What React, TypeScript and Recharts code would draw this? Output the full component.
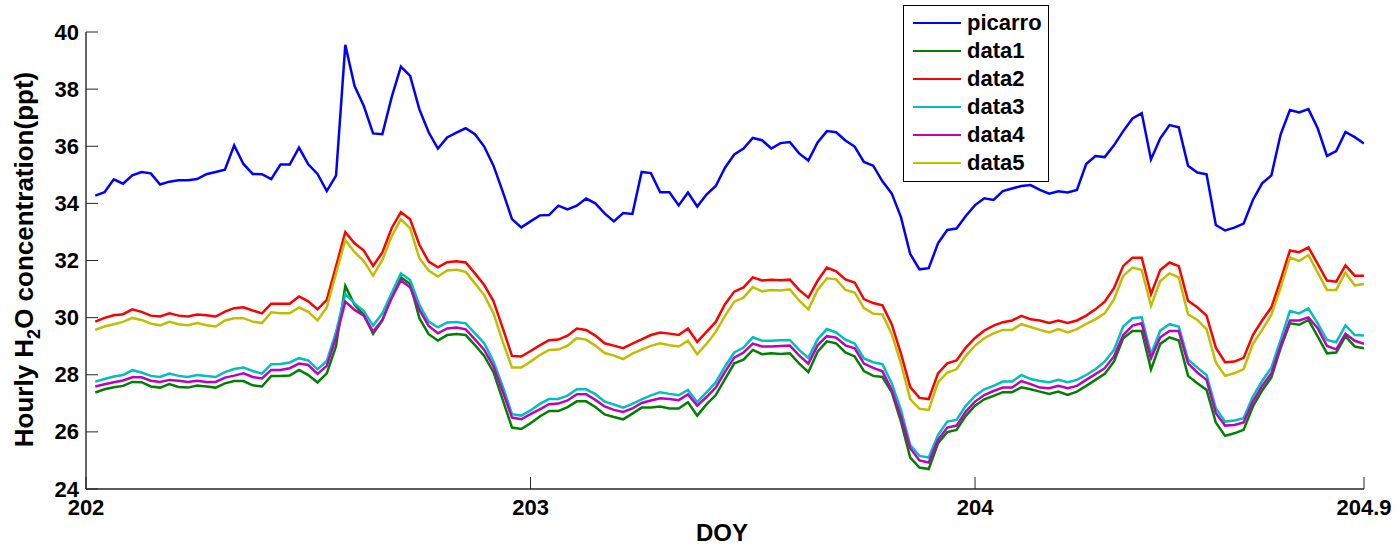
import React from 'react';
import { LineChart, Line, XAxis, YAxis, Legend } from 'recharts';

// Half-hourly samples, first one half an hour after DOY 202.
const FIRST_DOY = 202 + 1 / 48;
const STEP_DAYS = 1 / 48;

const picarro = [
  34.27, 34.39, 34.84, 34.69, 34.98, 35.10, 35.05, 34.66, 34.76, 34.81,
  34.81, 34.85, 35.02, 35.10, 35.18, 36.03, 35.38, 35.03, 35.02, 34.85,
  35.36, 35.36, 35.95, 35.37, 35.03, 34.43, 34.97, 39.55, 38.11, 37.41,
  36.45, 36.42, 37.71, 38.79, 38.46, 37.29, 36.49, 35.92, 36.31, 36.48,
  36.63, 36.42, 35.99, 35.32, 34.41, 33.45, 33.16, 33.37, 33.58, 33.59,
  33.92, 33.79, 33.92, 34.17, 34.00, 33.65, 33.37, 33.66, 33.63, 35.10,
  35.06, 34.39, 34.39, 33.93, 34.38, 33.89, 34.31, 34.61, 35.25, 35.71,
  35.92, 36.29, 36.21, 35.92, 36.11, 36.15, 35.75, 35.50, 36.13, 36.53,
  36.49, 36.20, 35.99, 35.45, 35.32, 34.77, 34.35, 33.52, 32.23, 31.69,
  31.73, 32.60, 33.07, 33.12, 33.56, 33.94, 34.18, 34.12, 34.43, 34.52,
  34.61, 34.64, 34.47, 34.34, 34.42, 34.38, 34.47, 35.38, 35.66, 35.62,
  36.03, 36.53, 36.97, 37.16, 35.54, 36.28, 36.74, 36.66, 35.32, 35.08,
  35.02, 33.24, 33.05, 33.15, 33.29, 34.12, 34.70, 34.98, 36.42, 37.27,
  37.18, 37.30, 36.63, 35.66, 35.83, 36.50, 36.32, 36.10,
];

const data1 = [
  27.38, 27.49, 27.56, 27.61, 27.75, 27.74, 27.59, 27.55, 27.67, 27.57,
  27.55, 27.62, 27.59, 27.55, 27.70, 27.78, 27.78, 27.63, 27.59, 27.96,
  27.96, 27.97, 28.17, 27.99, 27.73, 28.05, 29.00, 31.11, 30.45, 30.09,
  29.43, 29.90, 30.74, 31.41, 31.18, 29.98, 29.42, 29.20, 29.39, 29.43,
  29.39, 29.04, 28.66, 28.09, 27.12, 26.15, 26.10, 26.30, 26.54, 26.73,
  26.73, 26.87, 27.07, 27.07, 26.87, 26.61, 26.52, 26.44, 26.64, 26.85,
  26.85, 26.89, 26.82, 26.82, 27.04, 26.57, 26.96, 27.29, 27.85, 28.40,
  28.53, 28.87, 28.72, 28.75, 28.73, 28.75, 28.40, 28.09, 28.81, 29.17,
  29.10, 28.78, 28.64, 28.13, 27.96, 27.92, 27.39, 26.36, 25.10, 24.75,
  24.70, 25.60, 25.99, 26.07, 26.56, 26.92, 27.14, 27.26, 27.39, 27.39,
  27.56, 27.49, 27.41, 27.33, 27.41, 27.29, 27.41, 27.61, 27.82, 28.03,
  28.46, 29.28, 29.53, 29.53, 28.19, 29.08, 29.31, 29.20, 27.96, 27.70,
  27.47, 26.33, 25.86, 25.95, 26.07, 26.89, 27.45, 27.91, 28.93, 29.80,
  29.75, 29.92, 29.34, 28.75, 28.78, 29.34, 28.99, 28.93,
];

const data2 = [
  29.86, 29.99, 30.08, 30.12, 30.29, 30.20, 30.07, 30.04, 30.15, 30.07,
  30.04, 30.11, 30.08, 30.04, 30.21, 30.33, 30.36, 30.25, 30.15, 30.49,
  30.49, 30.49, 30.74, 30.57, 30.29, 30.62, 31.80, 32.99, 32.60, 32.35,
  31.81, 32.28, 33.13, 33.69, 33.44, 32.55, 31.96, 31.76, 31.94, 31.97,
  31.93, 31.55, 31.14, 30.58, 29.63, 28.66, 28.64, 28.83, 29.03, 29.21,
  29.23, 29.37, 29.62, 29.57, 29.37, 29.10, 29.02, 28.93, 29.09, 29.24,
  29.39, 29.48, 29.44, 29.39, 29.62, 29.15, 29.50, 29.85, 30.47, 30.91,
  31.06, 31.41, 31.30, 31.33, 31.31, 31.33, 30.97, 30.70, 31.29, 31.75,
  31.62, 31.34, 31.23, 30.65, 30.51, 30.43, 29.77, 28.74, 27.57, 27.19,
  27.15, 28.05, 28.40, 28.50, 28.95, 29.29, 29.55, 29.72, 29.84, 29.90,
  30.06, 29.94, 29.90, 29.81, 29.90, 29.81, 29.90, 30.07, 30.29, 30.56,
  31.03, 31.81, 32.10, 32.10, 30.82, 31.67, 31.93, 31.80, 30.59, 30.36,
  30.07, 28.95, 28.44, 28.46, 28.59, 29.39, 29.90, 30.36, 31.32, 32.35,
  32.29, 32.46, 31.88, 31.30, 31.26, 31.83, 31.47, 31.47,
];

const data3 = [
  27.76, 27.85, 27.94, 27.99, 28.16, 28.08, 27.96, 27.92, 28.04, 27.96,
  27.92, 27.99, 27.96, 27.92, 28.09, 28.20, 28.25, 28.13, 28.04, 28.37,
  28.38, 28.43, 28.58, 28.50, 28.19, 28.48, 29.50, 30.83, 30.50, 30.23,
  29.72, 30.15, 30.85, 31.55, 31.32, 30.45, 29.86, 29.66, 29.83, 29.85,
  29.80, 29.45, 29.10, 28.46, 27.59, 26.62, 26.57, 26.75, 26.98, 27.15,
  27.15, 27.27, 27.49, 27.49, 27.32, 27.06, 26.96, 26.85, 26.98, 27.14,
  27.28, 27.39, 27.33, 27.28, 27.47, 27.04, 27.38, 27.73, 28.29, 28.78,
  28.95, 29.31, 29.19, 29.19, 29.21, 29.22, 28.87, 28.59, 29.24, 29.60,
  29.48, 29.23, 29.09, 28.57, 28.44, 28.37, 27.70, 26.77, 25.54, 25.16,
  25.10, 25.89, 26.36, 26.42, 26.91, 27.26, 27.49, 27.61, 27.76, 27.76,
  27.99, 27.85, 27.78, 27.74, 27.82, 27.74, 27.82, 27.99, 28.19, 28.46,
  28.87, 29.69, 29.98, 30.01, 28.72, 29.55, 29.77, 29.69, 28.54, 28.25,
  27.99, 26.83, 26.36, 26.40, 26.48, 27.24, 27.78, 28.25, 29.22, 30.23,
  30.15, 30.32, 29.80, 29.22, 29.14, 29.73, 29.39, 29.37,
];

const data4 = [
  27.59, 27.67, 27.74, 27.80, 27.91, 27.91, 27.79, 27.75, 27.82, 27.79,
  27.75, 27.79, 27.75, 27.75, 27.90, 27.97, 28.05, 27.92, 27.87, 28.17,
  28.17, 28.23, 28.39, 28.34, 28.03, 28.31, 29.30, 30.56, 30.27, 30.07,
  29.51, 29.92, 30.68, 31.30, 31.06, 30.27, 29.71, 29.45, 29.62, 29.65,
  29.59, 29.24, 28.87, 28.29, 27.41, 26.50, 26.44, 26.62, 26.79, 26.97,
  26.99, 27.10, 27.32, 27.32, 27.12, 26.89, 26.77, 26.70, 26.82, 27.01,
  27.10, 27.18, 27.15, 27.11, 27.31, 26.92, 27.22, 27.55, 28.10, 28.60,
  28.78, 29.09, 28.99, 28.99, 29.01, 29.02, 28.68, 28.39, 29.03, 29.35,
  29.30, 29.03, 28.93, 28.39, 28.24, 28.12, 27.47, 26.54, 25.43, 25.00,
  24.93, 25.72, 26.15, 26.22, 26.71, 27.06, 27.29, 27.43, 27.55, 27.55,
  27.78, 27.67, 27.55, 27.53, 27.61, 27.53, 27.61, 27.82, 28.02, 28.23,
  28.64, 29.39, 29.72, 29.80, 28.58, 29.31, 29.53, 29.53, 28.40, 28.08,
  27.82, 26.65, 26.22, 26.24, 26.33, 27.06, 27.61, 28.05, 29.02, 29.90,
  29.90, 30.01, 29.63, 29.01, 28.89, 29.43, 29.19, 29.08,
];

const data5 = [
  29.57, 29.69, 29.77, 29.85, 29.99, 29.92, 29.79, 29.73, 29.85, 29.77,
  29.73, 29.81, 29.73, 29.69, 29.90, 29.98, 29.98, 29.86, 29.81, 30.19,
  30.15, 30.15, 30.36, 30.20, 29.90, 30.36, 31.55, 32.72, 32.29, 31.98,
  31.47, 32.02, 32.84, 33.44, 33.13, 32.08, 31.65, 31.44, 31.65, 31.68,
  31.60, 31.20, 30.79, 30.15, 29.16, 28.25, 28.25, 28.46, 28.69, 28.87,
  28.88, 29.02, 29.28, 29.23, 29.02, 28.76, 28.67, 28.55, 28.74, 28.88,
  29.01, 29.10, 29.03, 28.99, 29.19, 28.72, 29.08, 29.50, 30.06, 30.56,
  30.70, 31.07, 30.92, 30.97, 30.95, 30.99, 30.60, 30.29, 30.97, 31.38,
  31.34, 30.97, 30.88, 30.33, 30.14, 30.11, 29.43, 28.40, 27.15, 26.81,
  26.77, 27.73, 28.08, 28.19, 28.66, 29.02, 29.28, 29.45, 29.57, 29.57,
  29.77, 29.67, 29.57, 29.48, 29.60, 29.48, 29.60, 29.78, 29.94, 30.15,
  30.64, 31.46, 31.75, 31.67, 30.41, 31.28, 31.55, 31.41, 30.12, 29.92,
  29.60, 28.43, 27.96, 28.05, 28.20, 29.07, 29.57, 30.10, 31.05, 32.11,
  31.98, 32.19, 31.58, 30.97, 30.97, 31.58, 31.13, 31.18,
];

const xDomain: [number, number] = [202, 204.875];
const xTickValues = [202, 203, 204, 204.875];
const xTickLabels = ['202', '203', '204', '204.9'];
const yDomain: [number, number] = [24, 40];
const yTickValues = [24, 26, 28, 30, 32, 34, 36, 38, 40];

const series = [
  { key: 'picarro', values: picarro, color: '#0000FF' },
  { key: 'data1', values: data1, color: '#008000' },
  { key: 'data2', values: data2, color: '#FF0000' },
  { key: 'data3', values: data3, color: '#00BFBF' },
  { key: 'data4', values: data4, color: '#BF00BF' },
  { key: 'data5', values: data5, color: '#BFBF00' },
];

const rows = picarro.map((_, i) => {
  const row: Record<string, number> = { doy: FIRST_DOY + i * STEP_DAYS };
  series.forEach((s) => {
    row[s.key] = s.values[i];
  });
  return row;
});

const FONT = '"Liberation Sans", Arial, Helvetica, sans-serif';
const AXIS = '#262626';
const TICK_LEN = 12;
const TICK_MARGIN = 8;

const LeftTick = (props: any) => {
  const { x, y, payload } = props;
  const ax = x + TICK_MARGIN;
  return (
    <g>
      <line x1={ax} y1={y} x2={ax + TICK_LEN} y2={y} stroke={AXIS} strokeWidth={1} />
      <text
        x={x + 1}
        y={y}
        textAnchor="end"
        dominantBaseline="central"
        fontFamily={FONT}
        fontWeight="bold"
        fontSize={22}
        fill="#000"
      >
        {payload.value}
      </text>
    </g>
  );
};

const BottomTick = (props: any) => {
  const { x, y, payload } = props;
  const ay = y - TICK_MARGIN;
  const idx = xTickValues.indexOf(payload.value);
  const label = idx >= 0 ? xTickLabels[idx] : String(payload.value);
  return (
    <g>
      <line x1={x} y1={ay} x2={x} y2={ay - TICK_LEN} stroke={AXIS} strokeWidth={1} />
      <text
        x={x}
        y={y + 18}
        textAnchor="middle"
        fontFamily={FONT}
        fontWeight="bold"
        fontSize={22}
        fill="#000"
      >
        {label}
      </text>
    </g>
  );
};

const RightTick = (props: any) => {
  const { x, y } = props;
  return <line x1={x} y1={y} x2={x - TICK_LEN} y2={y} stroke={AXIS} strokeWidth={1} />;
};

const TopTick = (props: any) => {
  const { x, y } = props;
  return <line x1={x} y1={y} x2={x} y2={y + TICK_LEN} stroke={AXIS} strokeWidth={1} />;
};

const YTitle = (props: any) => {
  const vb = props.viewBox || {};
  const cy = (vb.y ?? 32) + (vb.height ?? 457) / 2 - 1;
  const cx = 33;
  return (
    <text
      transform={`translate(${cx},${cy}) rotate(-90)`}
      textAnchor="middle"
      fontFamily={FONT}
      fontWeight="bold"
      fontSize={26}
      fill="#000"
    >
      <tspan>Hourly H</tspan>
      <tspan fontSize={18} dy={7}>2</tspan>
      <tspan dy={-7}>O concentration(ppt)</tspan>
    </text>
  );
};

const XTitle = (props: any) => {
  const vb = props.viewBox || {};
  const cx = (vb.x ?? 86) + (vb.width ?? 1278) / 2 - 3;
  const by = (vb.y ?? 489) + 52;
  return (
    <text x={cx} y={by} textAnchor="middle" fontFamily={FONT} fontWeight="bold" fontSize={24} fill="#000">
      DOY
    </text>
  );
};

const LegendBox = () => (
  <div
    style={{
      boxSizing: 'border-box',
      width: 146,
      height: 177,
      border: '1.5px solid #000',
      background: '#fff',
      paddingTop: 3,
    }}
  >
    {series.map((s) => (
      <div key={s.key} style={{ display: 'flex', alignItems: 'center', height: 28 }}>
        <span
          style={{
            display: 'inline-block',
            marginLeft: 9,
            width: 48,
            height: 0,
            borderTop: `2.5px solid ${s.color}`,
          }}
        />
        <span
          style={{
            marginLeft: 6,
            fontFamily: FONT,
            fontWeight: 'bold',
            fontSize: 22,
            lineHeight: '28px',
            color: '#000',
          }}
        >
          {s.key}
        </span>
      </div>
    ))}
  </div>
);

export default function App() {
  return (
    <div style={{ width: 1397, height: 547, background: '#fff' }}>
      <style>{'html,body{margin:0;padding:0;overflow:hidden;background:#fff;}'}</style>
      <LineChart
        width={1397}
        height={547}
        data={rows}
        margin={{ top: 32, right: 33, bottom: 0, left: 0 }}
      >
        <XAxis
          dataKey="doy"
          type="number"
          domain={xDomain}
          ticks={xTickValues}
          allowDataOverflow
          height={58}
          tickSize={0}
          tickMargin={TICK_MARGIN}
          tickLine={false}
          axisLine={{ stroke: AXIS, strokeWidth: 1.4 }}
          tick={<BottomTick />}
          interval={0}
          label={<XTitle />}
        />
        <XAxis
          xAxisId="top"
          orientation="top"
          dataKey="doy"
          type="number"
          domain={xDomain}
          ticks={xTickValues}
          allowDataOverflow
          height={0}
          tickSize={0}
          tickMargin={0}
          tickLine={false}
          axisLine={{ stroke: AXIS, strokeWidth: 1.4 }}
          tick={<TopTick />}
          interval={0}
        />
        <YAxis
          type="number"
          domain={yDomain}
          ticks={yTickValues}
          allowDataOverflow
          width={86}
          tickSize={0}
          tickMargin={TICK_MARGIN}
          tickLine={false}
          axisLine={{ stroke: AXIS, strokeWidth: 1.4 }}
          tick={<LeftTick />}
          interval={0}
          label={<YTitle />}
        />
        <YAxis
          yAxisId="right"
          orientation="right"
          type="number"
          domain={yDomain}
          ticks={yTickValues}
          allowDataOverflow
          width={0}
          tickSize={0}
          tickMargin={0}
          tickLine={false}
          axisLine={{ stroke: AXIS, strokeWidth: 1.4 }}
          tick={<RightTick />}
          interval={0}
        />
        {series.map((s) => (
          <Line
            key={s.key}
            dataKey={s.key}
            name={s.key}
            type="linear"
            stroke={s.color}
            strokeWidth={2.5}
            dot={false}
            activeDot={false}
            isAnimationActive={false}
          />
        ))}
        <Legend
          layout="vertical"
          align="center"
          verticalAlign="middle"
          wrapperStyle={{ position: 'absolute', left: 903, top: 5, width: 146, height: 177, margin: 0 }}
          content={() => <LegendBox />}
        />
      </LineChart>
    </div>
  );
}
